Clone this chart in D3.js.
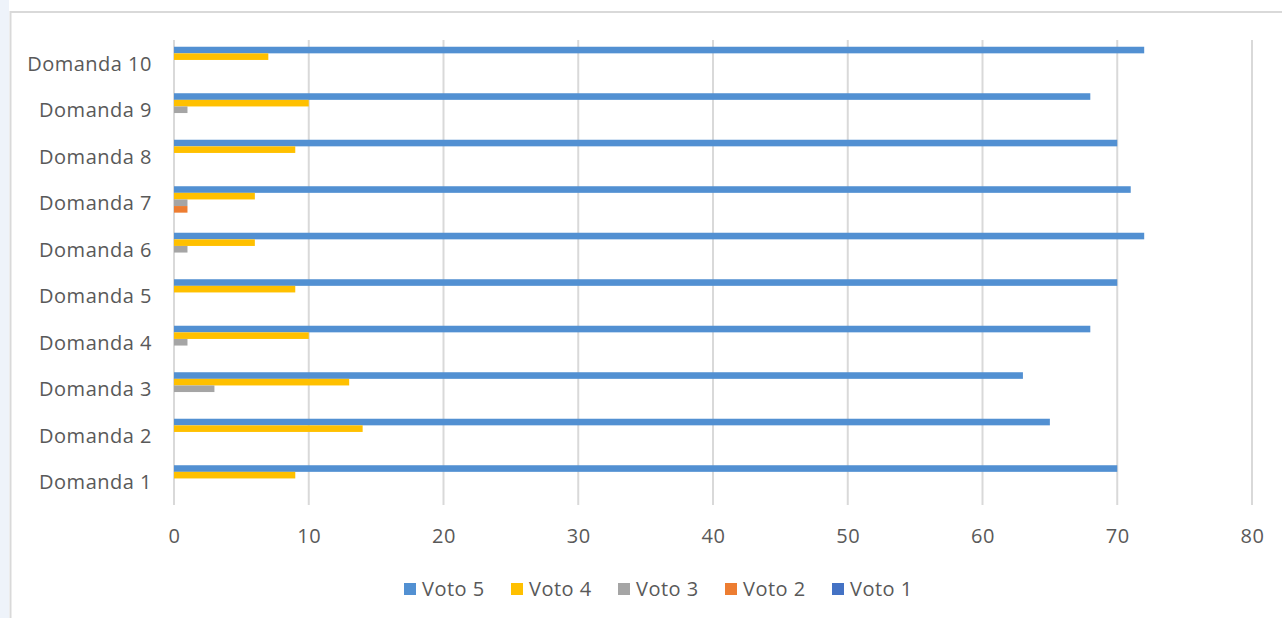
<!DOCTYPE html>
<html>
<head>
<meta charset="utf-8">
<script src="https://cdn.jsdelivr.net/npm/d3@7"></script>
<style>
  html, body { margin: 0; padding: 0; background: #ffffff; }
  svg { display: block; }
</style>
</head>
<body>
<svg id="chart" width="1282" height="618"></svg>
<script>
// ---- data ----
const categories = ["Domanda 1","Domanda 2","Domanda 3","Domanda 4","Domanda 5","Domanda 6","Domanda 7","Domanda 8","Domanda 9","Domanda 10"];
const seriesNames = ["Voto 5","Voto 4","Voto 3","Voto 2","Voto 1"];
const voto5 = [70, 65, 63, 68, 70, 72, 71, 70, 68, 72];
const voto4 = [9, 14, 13, 10, 9, 6, 6, 9, 10, 7];
const voto3 = [0, 0, 3, 1, 0, 1, 1, 0, 1, 0];
const voto2 = [0, 0, 0, 0, 0, 0, 1, 0, 0, 0];
const voto1 = [0, 0, 0, 0, 0, 0, 0, 0, 0, 0];
const xTicks = [0, 10, 20, 30, 40, 50, 60, 70, 80];
const colors = ["#5290D2", "#FFC000", "#A5A5A5", "#ED7D31", "#4472C4"];

const seriesValues = [voto5, voto4, voto3, voto2, voto1];
const rows = categories.map((c, i) => ({cat: c, vals: seriesNames.map((s, j) => ({series: s, value: seriesValues[j][i], color: colors[j]}))}));

const svg = d3.select("#chart");
const W = 1282, H = 618;
const font = "'Open Sans', sans-serif";
const textColor = "#595959";
const fs = 20, ls = "0.5px";

// frame
svg.append("rect").attr("x", 0).attr("y", 0).attr("width", 9).attr("height", H).attr("fill", "#eef3fa");
svg.append("rect").attr("x", 10.5).attr("y", 12).attr("width", W).attr("height", H).attr("fill", "#ffffff")
  .attr("stroke", "#d9d9d9").attr("stroke-width", 2);

const plot = {left: 174, right: 1252, top: 40, bottom: 505};

const x = d3.scaleLinear().domain([0, 80]).range([plot.left, plot.right]);
const y0 = d3.scaleBand().domain(categories.slice().reverse()).range([plot.top, plot.bottom])
  .paddingInner(0.29).paddingOuter(0.145);
const y1 = d3.scaleBand().domain(seriesNames).range([0, y0.bandwidth()]);

// gridlines
svg.append("g").selectAll("line").data(xTicks).join("line")
  .attr("x1", d => x(d)).attr("x2", d => x(d))
  .attr("y1", plot.top).attr("y2", plot.bottom)
  .attr("stroke", "#d9d9d9").attr("stroke-width", 2);

// bars
const groups = svg.append("g").selectAll("g").data(rows).join("g")
  .attr("transform", d => `translate(0,${y0(d.cat)})`);
groups.selectAll("rect").data(d => d.vals.filter(v => v.value > 0)).join("rect")
  .attr("x", x(0))
  .attr("y", d => y1(d.series))
  .attr("width", d => x(d.value) - x(0))
  .attr("height", y1.bandwidth())
  .attr("fill", d => d.color);

// y axis labels
const yAxis = d3.axisLeft(y0).tickSize(0).tickPadding(22);
const gy = svg.append("g").attr("transform", `translate(${plot.left},1)`).call(yAxis);
gy.select(".domain").remove();
gy.selectAll("text").attr("font-family", font).attr("font-size", fs).attr("letter-spacing", ls).attr("fill", textColor);

// x axis labels
const xAxis = d3.axisBottom(x).tickValues(xTicks).tickSize(0).tickPadding(24).tickFormat(d3.format("d"));
const gx = svg.append("g").attr("transform", `translate(0,${plot.bottom})`).call(xAxis);
gx.select(".domain").remove();
gx.selectAll("text").attr("font-family", font).attr("font-size", fs).attr("letter-spacing", ls).attr("fill", textColor);

// legend
const legendStart = 404, legendPitch = 107, legendY = 589;
const lg = svg.append("g").selectAll("g").data(seriesNames).join("g")
  .attr("transform", (d, i) => `translate(${legendStart + i * legendPitch},${legendY})`);
lg.append("rect").attr("x", 0).attr("y", -6).attr("width", 12).attr("height", 12).attr("fill", (d, i) => colors[i]);
lg.append("text").attr("x", 18).attr("y", 0).attr("dy", "0.35em")
  .attr("font-family", font).attr("font-size", fs).attr("letter-spacing", ls).attr("fill", textColor).text(d => d);
</script>
</body>
</html>
